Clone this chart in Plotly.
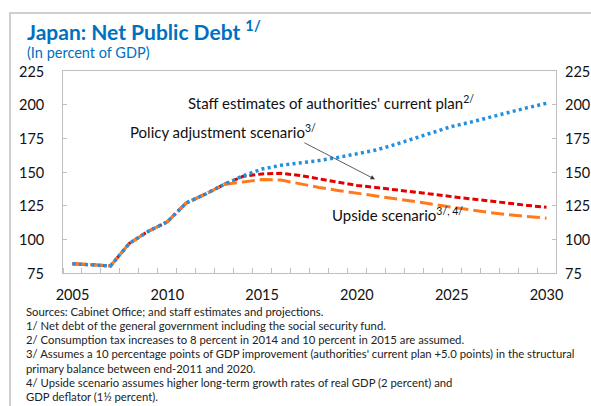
import plotly.graph_objects as go

# Years shown on the horizontal axis
years = list(range(2005, 2031))

# Outturn common to all scenarios (2005-2013), percent of GDP
history = [81.8, 81.3, 80.2, 97.0, 106.0, 113.0, 127.0, 133.5, 140.8]

# Projections 2014-2030, percent of GDP
current_plan_proj = [147.2, 152.2, 155.0, 156.7, 158.5, 160.8, 163.5, 166.3, 170.3,
                     174.8, 179.8, 183.8, 187.0, 190.8, 194.5, 197.8, 201.0]
policy_adj_proj = [146.8, 148.6, 149.0, 147.4, 145.0, 142.5, 140.0, 138.5, 137.0,
                   135.3, 133.5, 131.7, 130.0, 128.3, 126.7, 125.2, 123.8]
upside_proj = [142.6, 144.4, 144.0, 141.0, 138.5, 136.3, 134.3, 132.5, 130.5,
               128.3, 126.1, 123.9, 121.8, 119.9, 118.2, 116.9, 115.7]

current_plan = history + current_plan_proj
policy_adj = history + policy_adj_proj
upside = history + upside_proj

y_ticks = [75, 100, 125, 150, 175, 200, 225]
x_ticks = [2005, 2010, 2015, 2020, 2025, 2030]

footnotes = [
    "Sources: Cabinet Office; and staff estimates and projections.",
    "1/ Net debt of the general government including the social security fund.",
    "2/ Consumption tax increases to 8 percent in 2014 and 10 percent in 2015 are assumed.",
    "3/ Assumes a 10 percentage points of GDP improvement (authorities' current plan +5.0 points) in the structural",
    "primary balance between end-2011 and 2020.",
    "4/ Upside scenario assumes higher long-term growth rates of real GDP (2 percent) and",
    "GDP deflator (1\u00bd percent).",
]

BLUE = "#2490DD"
RED = "#E50000"
ORANGE = "#FF7A1C"
AXIS_GREY = "#BFBFBF"
TITLE_BLUE = "#0070C0"
FONT = "Lato, 'Open Sans', sans-serif"

fig = go.Figure()

fig.add_trace(go.Scatter(x=years, y=policy_adj, mode="lines", name="Policy adjustment",
                         line=dict(color=RED, width=3, dash="6px,3px")))
fig.add_trace(go.Scatter(x=years, y=upside, mode="lines", name="Upside",
                         line=dict(color=ORANGE, width=3, dash="13px,5px")))
# Drawn against the right-hand axis (same scale) so that axis is rendered too
fig.add_trace(go.Scatter(x=years, y=current_plan, mode="lines", name="Current plan",
                         yaxis="y2",
                         line=dict(color=BLUE, width=3.5, dash="3px,3.3px")))

W, H = 591, 406
ML, MR, MT, MB = 63, 35, 71, 133
PW, PH = W - ML - MR, H - MT - MB


def px_to_paper(px, py):
    return (px - ML) / PW, (H - MB - py) / PH


label_font = dict(family=FONT, size=15, color="#111")
axis_font = dict(family=FONT, size=14.5, color="#111")
annotations = []

# Value labels on both vertical axes
left_x, _ = px_to_paper(46, 0)
right_x, _ = px_to_paper(563, 0)
for v in y_ticks:
    annotations.append(dict(x=left_x, y=v, xref="paper", yref="y", xanchor="right",
                            yanchor="middle", text=str(v), showarrow=False, font=axis_font))
    annotations.append(dict(x=right_x, y=v, xref="paper", yref="y", xanchor="left",
                            yanchor="middle", text=str(v), showarrow=False, font=axis_font))

# Series labels
annotations.append(dict(x=2011.0, y=201.5, xref="x", yref="y", xanchor="left", yanchor="middle",
                        text="Staff estimates of authorities' current plan<sup>2/</sup>",
                        showarrow=False, font=label_font))
annotations.append(dict(x=2007.95, y=179.8, xref="x", yref="y", xanchor="left", yanchor="middle",
                        text="Policy adjustment scenario<sup>3/</sup>",
                        showarrow=False, font=label_font))
annotations.append(dict(x=2018.6, y=118.2, xref="x", yref="y", xanchor="left", yanchor="middle",
                        text="Upside scenario<sup>3/, 4/</sup>",
                        showarrow=False, font=label_font))
# Pointer to the policy adjustment line
annotations.append(dict(x=2020.95, y=144.6, ax=2017.15, ay=172.3, xref="x", yref="y",
                        axref="x", ayref="y", text="", showarrow=True, arrowhead=2,
                        arrowsize=1.1, arrowwidth=0.8, arrowcolor="#333"))

# Title and unit line
tx, ty = px_to_paper(25, 30)
annotations.append(dict(x=tx, y=ty, xref="paper", yref="paper", xanchor="left", yanchor="middle",
                        text="<b>Japan: Net Public Debt <sup>1/</sup></b>", showarrow=False,
                        font=dict(family=FONT, size=21, color=TITLE_BLUE)))
sx, sy = px_to_paper(25, 53)
annotations.append(dict(x=sx, y=sy, xref="paper", yref="paper", xanchor="left", yanchor="middle",
                        text="(In percent of GDP)", showarrow=False,
                        font=dict(family=FONT, size=14.5, color=TITLE_BLUE)))

# Footnotes, one per line
for i, line in enumerate(footnotes):
    fx, fy = px_to_paper(24, 311 + i * 14.3)
    annotations.append(dict(x=fx, y=fy, xref="paper", yref="paper", xanchor="left",
                            yanchor="middle", text=line, showarrow=False,
                            font=dict(family=FONT, size=11.3, color="#222")))

# Outer panel frame
fx0, fy0 = px_to_paper(10, 13)
fx1, fy1 = px_to_paper(W + 10, H + 10)
shapes = [dict(type="rect", xref="paper", yref="paper", x0=fx0, y0=fy1, x1=fx1, y1=fy0,
               line=dict(color="#CFCFCF", width=2), fillcolor="rgba(0,0,0,0)", layer="below")]

fig.update_layout(
    width=W, height=H,
    margin=dict(l=ML, r=MR, t=MT, b=MB, pad=0),
    paper_bgcolor="white", plot_bgcolor="white",
    showlegend=False,
    annotations=annotations,
    shapes=shapes,
    xaxis=dict(range=[2004.5, 2030.5], tickvals=x_ticks, ticktext=[str(v) for v in x_ticks],
               ticks="", showgrid=False, zeroline=False, showline=True, linecolor=AXIS_GREY,
               linewidth=1, mirror=True, tickfont=axis_font, ticklabelstandoff=9,
               minor=dict(tick0=2004.5, dtick=1, ticks="inside", ticklen=5,
                          tickcolor=AXIS_GREY, showgrid=False)),
    yaxis=dict(range=[75, 225], tickvals=y_ticks, ticks="inside", ticklen=4,
               tickcolor=AXIS_GREY, showgrid=False, zeroline=False, showline=True,
               linecolor=AXIS_GREY, linewidth=1, mirror=True, showticklabels=False),
    yaxis2=dict(range=[75, 225], tickvals=y_ticks, overlaying="y", side="right",
                ticks="inside", ticklen=4, tickcolor=AXIS_GREY, showgrid=False,
                zeroline=False, showline=False, showticklabels=False),
)

fig.write_html("out.html")
